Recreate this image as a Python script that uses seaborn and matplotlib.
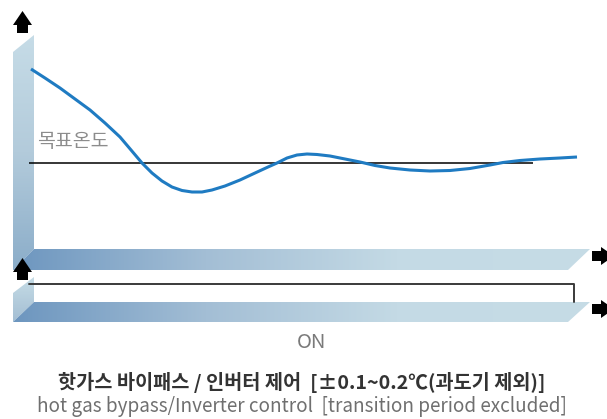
import numpy as np
import pandas as pd
import matplotlib
matplotlib.use("Agg")
import matplotlib.pyplot as plt
import matplotlib.patches as patches
from matplotlib.colors import LinearSegmentedColormap
import seaborn as sns

# Temperature response around the set point (time in %, deviation in arbitrary units)
time_pct = [0, 2.56, 5.31, 8.06, 10.81, 13.55, 16.30, 18.32, 20.33, 22.16, 23.99,
            25.82, 27.66, 29.49, 31.32, 33.15, 35.53, 38.28, 41.03, 43.41, 45.05,
            46.89, 48.72, 50.55, 52.38, 54.76, 57.51, 60.26, 63.00, 65.75, 69.41,
            73.08, 76.74, 80.40, 84.07, 86.45, 89.56, 93.22, 96.89, 100]
temp_dev = [9.4, 8.5, 7.5, 6.4, 5.3, 4.0, 2.6, 1.3, 0.0, -1.0, -1.8,
            -2.4, -2.75, -2.9, -2.9, -2.7, -2.3, -1.7, -1.0, -0.4, 0.0,
            0.5, 0.8, 0.9, 0.85, 0.7, 0.4, 0.1, -0.25, -0.5, -0.7,
            -0.8, -0.75, -0.55, -0.2, 0.05, 0.25, 0.4, 0.5, 0.6]
target_temp = 0.0
target_span = (-0.4, 92.0)

# ON signal
on_time = [-0.4, 99.4, 99.4]
on_level = [1, 1, 0]

target_label = "목표온도"
signal_label = "ON"
caption_kr = "핫가스 바이패스 / 인버터 제어  [±0.1~0.2℃(과도기 제외)]"
caption_en = "hot gas bypass/Inverter control  [transition period excluded]"

sns.set_theme(style="white")
plt.rcParams['font.family'] = ['Noto Sans CJK KR', 'DejaVu Sans']

W, H = 607, 419
fig = plt.figure(figsize=(W / 100, H / 100), dpi=100)
bg = fig.add_axes([0, 0, 1, 1])
bg.set_axis_off()


def grad_poly(ax, poly, colors, horizontal):
    xs, ys = zip(*poly)
    cmap = LinearSegmentedColormap.from_list("g", colors)
    arr = np.linspace(0, 1, 256)
    arr = arr.reshape(1, -1) if horizontal else arr.reshape(-1, 1)
    im = ax.imshow(arr, cmap=cmap, extent=(min(xs), max(xs), max(ys), min(ys)),
                   aspect='auto', origin='upper', interpolation='bilinear', zorder=1)
    clip = patches.Polygon(poly, closed=True, fc='none', ec='none')
    ax.add_patch(clip)
    im.set_clip_path(clip)


# 3D-ish axis bars (pixel space)
grad_poly(bg, [(13, 52), (34, 35), (34, 249), (13, 270)], ["#c6dce7", "#b3cbdb", "#8badc9"], False)
grad_poly(bg, [(13, 270), (34, 249), (590, 249), (568, 270)],
          ["#6d96bf", "#a3bed5", "#c4dae5", "#c6dce6"], True)
grad_poly(bg, [(13, 293), (34, 277), (34, 302), (13, 322)], ["#c6dce6", "#a3bed3"], False)
grad_poly(bg, [(13, 322), (34, 302), (590, 302), (568, 322)],
          ["#6d96bf", "#a3bed5", "#c4dae5", "#c6dce6"], True)


def up_arrow(ax, cx, top):
    pts = [(cx, top), (cx + 9.5, top + 14), (cx + 5.5, top + 14), (cx + 5.5, top + 22),
           (cx - 5.5, top + 22), (cx - 5.5, top + 14), (cx - 9.5, top + 14)]
    ax.add_patch(patches.Polygon(pts, closed=True, fc='black', ec='none', zorder=5))


def right_arrow(ax, left, cy):
    pts = [(left, cy - 5), (left + 9, cy - 5), (left + 9, cy - 9), (left + 22, cy),
           (left + 9, cy + 9), (left + 9, cy + 5), (left, cy + 5)]
    ax.add_patch(patches.Polygon(pts, closed=True, fc='black', ec='none', zorder=5))


up_arrow(bg, 22.5, 11)
up_arrow(bg, 22.5, 258)
right_arrow(bg, 592, 256)
right_arrow(bg, 592, 309)

bg.text(37, 141, target_label, fontsize=14, color="#8c8c8c", va='center', ha='left',
        fontweight='light')
bg.text(312, 342, signal_label, fontsize=14.5, color="#7a7a7a", va='center', ha='center',
        fontweight='light')
bg.text(302, 382, caption_kr, fontsize=14.2, color="#333333", va='center', ha='center',
        fontweight='bold')
bg.text(302, 406, caption_en, fontsize=13.6, color="#6f6f6f", va='center', ha='center',
        fontweight='light')

bg.set_xlim(0, W)
bg.set_ylim(H, 0)

# Curve axes: x 31..577 px, y 40..245 px
ax = fig.add_axes([31 / W, (H - 245) / H, 546 / W, 205 / H])
ax.set_axis_off()
ax.patch.set_alpha(0)
ax.set_xlim(0, 100)
ax.set_ylim(-8.2, 12.3)
ax.hlines(target_temp, *target_span, color='black', lw=1.1, clip_on=False, zorder=2)
df = pd.DataFrame({"time": time_pct, "temp": temp_dev})
sns.lineplot(data=df, x="time", y="temp", ax=ax, color="#1f7bc2", lw=2.2,
             sort=False, estimator=None, zorder=3)
for ln in ax.lines:
    ln.set_clip_on(False)
    ln.set_solid_capstyle('butt')
    ln.set_solid_joinstyle('round')

# Signal axes: level 1 at 284 px, level 0 at 302 px
sax = fig.add_axes([31 / W, (H - 305) / H, 546 / W, 25 / H])
sax.set_axis_off()
sax.patch.set_alpha(0)
sax.set_xlim(0, 100)
sax.set_ylim(-3 / 18, 1 + 4 / 18)
sns.lineplot(x=on_time, y=on_level, ax=sax, color="#3a3a3a", lw=1.4,
             sort=False, estimator=None)
for ln in sax.lines:
    ln.set_clip_on(False)

fig.savefig("out.png", dpi=100)
